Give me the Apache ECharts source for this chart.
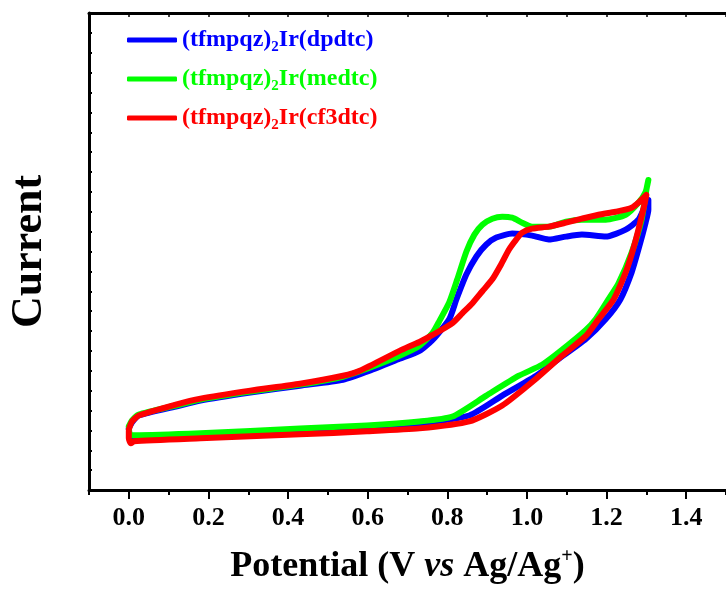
<!DOCTYPE html>
<html><head><meta charset="utf-8">
<script src="https://cdn.jsdelivr.net/npm/echarts@6/dist/echarts.min.js"></script>
<style>html,body{margin:0;padding:0;background:#fff}#c{width:726px;height:590px}</style>
</head><body><div id="c"></div>
<script>
// ---- data (potential in V, current in arbitrary units) ----
const blueV = [0.000,0.008,0.025,0.118,0.180,0.305,0.430,0.538,0.605,0.680,0.730,0.763,0.805,0.823,0.848,0.873,0.898,0.923,0.963,1.013,1.055,1.098,1.138,1.198,1.248,1.280,1.298,1.305,
  1.305,1.298,1.280,1.263,1.235,1.198,1.148,1.080,1.023,0.938,0.855,0.730,0.598,0.430,0.180,0.013,0.003,0.000];
const blueI = [3.10,3.40,3.75,4.20,4.50,4.90,5.25,5.55,6.00,6.60,7.00,7.55,8.60,9.60,10.85,11.75,12.35,12.70,12.90,12.80,12.60,12.75,12.85,12.75,13.10,13.60,14.35,14.60,
  14.10,13.45,12.10,10.95,9.60,8.60,7.60,6.60,5.75,4.75,3.75,3.35,3.15,3.00,2.80,2.70,2.65,3.10];

const greenV = [0.000,0.008,0.025,0.118,0.180,0.305,0.430,0.538,0.605,0.680,0.730,0.763,0.780,0.805,0.825,0.848,0.868,0.888,0.913,0.938,0.963,0.988,1.013,1.055,1.098,1.138,1.198,1.248,1.280,1.298,1.305,
  1.300,1.288,1.263,1.230,1.205,1.173,1.148,1.088,1.038,0.980,0.898,0.813,0.730,0.598,0.430,0.180,0.013,0.003,0.000];
const greenI = [3.20,3.50,3.80,4.25,4.55,4.95,5.30,5.70,6.15,6.75,7.25,7.90,8.50,9.45,10.60,12.00,12.85,13.35,13.65,13.75,13.70,13.45,13.25,13.25,13.50,13.60,13.60,13.85,14.45,15.00,15.60,
  15.10,13.60,11.95,10.40,9.60,8.60,8.05,7.05,6.30,5.75,4.75,3.70,3.45,3.25,3.10,2.85,2.75,2.75,3.20];

const redV = [0.000,0.008,0.025,0.118,0.180,0.305,0.430,0.538,0.580,0.680,0.730,0.763,0.813,0.838,0.863,0.888,0.913,0.935,0.955,0.973,0.988,1.013,1.055,1.098,1.138,1.180,1.223,1.263,1.285,1.300,
  1.295,1.280,1.263,1.248,1.218,1.180,1.148,1.088,1.023,0.938,0.855,0.730,0.598,0.430,0.180,0.013,0.005,0.000,0.000];
const redI = [3.05,3.45,3.75,4.30,4.60,5.00,5.35,5.75,6.00,7.00,7.45,7.80,8.40,8.90,9.40,10.00,10.60,11.35,12.10,12.60,12.95,13.15,13.25,13.45,13.65,13.85,14.00,14.20,14.55,14.85,
  14.35,13.10,11.85,10.95,9.60,8.60,7.75,6.75,5.60,4.25,3.45,3.10,2.95,2.80,2.60,2.45,2.35,2.60,2.95];

const namePrefix = '(tfmpqz)';
const nameSub = '2';
const nameSuffix = ['Ir(dpdtc)', 'Ir(medtc)', 'Ir(cf3dtc)'];
const xTickLabels = [0.0, 0.2, 0.4, 0.6, 0.8, 1.0, 1.2, 1.4];
const xRange = [-0.1, 1.5];
const yRange = [0, 24];

// ---- styling ----
const FONT = '"Times New Roman","Liberation Serif",serif';
const colors = ['#0000ff', '#00ff00', '#ff0000'];
const names = nameSuffix.map(s => namePrefix + nameSub + s);
const zip = (a, b) => a.map((v, i) => [v, b[i]]);
const seriesData = [zip(blueV, blueI), zip(greenV, greenI), zip(redV, redI)];

const rich = {};
colors.forEach((c, i) => {
  rich['m' + i] = {fontFamily: FONT, fontWeight: 'bold', fontSize: 24, color: c, lineHeight: 30};
  rich['s' + i] = {fontFamily: FONT, fontWeight: 'bold', fontSize: 15, color: c, lineHeight: 10, verticalAlign: 'bottom'};
});

const chart = echarts.init(document.getElementById('c'), null, {renderer: 'canvas'});
chart.setOption({
  animation: false,
  backgroundColor: '#fff',
  grid: {left: 88, right: -2, top: 13, bottom: 98, containLabel: false},
  legend: {
    orient: 'vertical', left: 122, top: 23,
    itemWidth: 50, itemHeight: 5, itemGap: 12,
    icon: 'roundRect',
    data: names,
    formatter: n => {
      const i = names.indexOf(n);
      return `{m${i}|${namePrefix}}{s${i}|${nameSub}}{m${i}|${nameSuffix[i]}}`;
    },
    textStyle: {rich: rich}
  },
  xAxis: [
    {
      type: 'value', position: 'bottom', min: xRange[0], max: xRange[1], interval: 0.1,
      axisLine: {show: true, onZero: false, lineStyle: {color: '#000', width: 3}},
      axisTick: {show: true, inside: false, length: 5, lineStyle: {color: '#000', width: 2}},
      axisLabel: {
        show: true, customValues: xTickLabels, margin: 15,
        formatter: v => v.toFixed(1),
        fontFamily: FONT, fontWeight: 'bold', fontSize: 26, color: '#000'
      },
      splitLine: {show: false},
      name: '{n|Potential (V }{i|vs}{n| Ag/Ag}{sup|+}{n|)}',
      nameLocation: 'middle', nameGap: 57,
      nameTextStyle: {
        fontFamily: FONT, fontWeight: 'bold', fontSize: 36, color: '#000',
        rich: {
          n: {fontFamily: FONT, fontWeight: 'bold', fontSize: 36, color: '#000', lineHeight: 40},
          i: {fontFamily: FONT, fontWeight: 'bold', fontStyle: 'italic', fontSize: 36, color: '#000', lineHeight: 40},
          sup: {fontFamily: FONT, fontWeight: 'bold', fontSize: 20, color: '#000', lineHeight: 20, verticalAlign: 'top'}
        }
      }
    },
    {
      type: 'value', position: 'bottom', min: xRange[0], max: xRange[1], interval: 0.1,
      axisLine: {show: false, onZero: false},
      axisTick: {show: true, inside: false, length: 9, customValues: xTickLabels, lineStyle: {color: '#000', width: 2}},
      axisLabel: {show: false}, splitLine: {show: false}
    },
    {
      type: 'value', position: 'top', min: xRange[0], max: xRange[1], interval: 0.1,
      axisLine: {show: true, onZero: false, lineStyle: {color: '#000', width: 3}},
      axisTick: {show: true, inside: true, length: 4, lineStyle: {color: '#000', width: 1.5}},
      axisLabel: {show: false}, splitLine: {show: false}
    }
  ],
  yAxis: {
    type: 'value', min: yRange[0], max: yRange[1], interval: 1,
    axisLine: {show: true, onZero: false, lineStyle: {color: '#000', width: 3}},
    axisTick: {show: true, inside: true, length: 3, lineStyle: {color: '#000', width: 2}},
    axisLabel: {show: false}, splitLine: {show: false},
    name: 'Current', nameLocation: 'middle', nameGap: 37,
    nameTextStyle: {fontFamily: FONT, fontWeight: 'bold', fontSize: 44, color: '#000'}
  },
  series: names.map((n, i) => ({
    name: n, type: 'line', xAxisIndex: 0, yAxisIndex: 0,
    data: seriesData[i], showSymbol: false, symbol: 'none',
    smooth: 0.2, smoothMonotone: null,
    lineStyle: {color: colors[i], width: 6, cap: 'round', join: 'round'},
    itemStyle: {color: colors[i]},
    z: 2 + i
  }))
});
</script></body></html>
